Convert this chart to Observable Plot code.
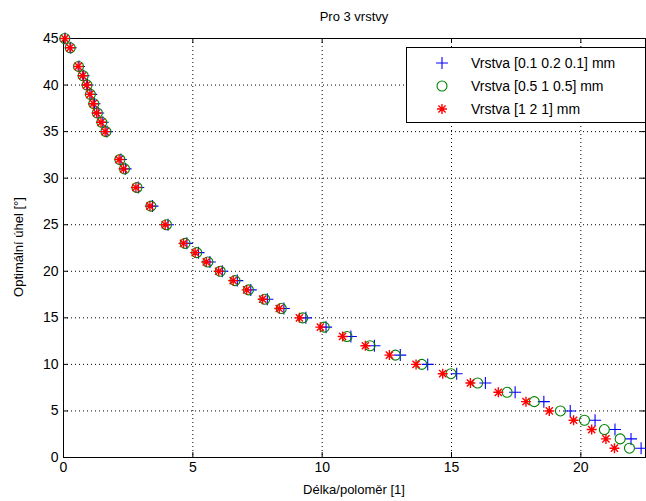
<!DOCTYPE html>
<html>
<head>
<meta charset="utf-8">
<script src="https://cdn.jsdelivr.net/npm/d3@7"></script>
<script src="https://cdn.jsdelivr.net/npm/@observablehq/plot@0.6"></script>
<style>
  html, body { margin: 0; padding: 0; background: #fff; }
  #wrap { position: relative; width: 646px; height: 501px; font-family: "Liberation Sans", Arial, sans-serif; color: #000; }
  #title { position: absolute; left: 63px; width: 582px; top: 9px; text-align: center; font-size: 13px; }
  #xlabel { position: absolute; left: 63px; width: 582px; top: 482px; text-align: center; font-size: 13px; }
  #ylabel { position: absolute; left: 18px; top: 247px; font-size: 13px; transform: translate(-50%, -50%) rotate(-90deg); white-space: nowrap; }
  #legend { position: absolute; left: 406px; top: 47px; width: 238px; height: 74px; border: 1px solid #000; background: #fff; }
  .lrow { position: absolute; left: 0; height: 20px; font-size: 14px; white-space: nowrap; }
  .lrow svg { position: absolute; left: 25px; top: 0; }
  .lrow span { position: absolute; left: 64px; top: 2px; }
</style>
</head>
<body>
<div id="wrap">
  <div id="chart"></div>
  <div id="title"></div>
  <div id="xlabel"></div>
  <div id="ylabel"></div>
  <div id="legend"></div>
</div>
<script>
// ---- data ----
const titleText = "Pro 3 vrstvy";
const xLabel = "Délka/poloměr [1]";
const yLabel = "Optimální úhel [°]";
const seriesNames = ["Vrstva [0.1 0.2 0.1] mm", "Vrstva [0.5 1 0.5] mm", "Vrstva [1 2 1] mm"];
const seriesColors = ["#0000ff", "#008000", "#ff0000"];

const angles = [45,44,42,41,40,39,38,37,36,35,32,31,29,27,25,23,22,21,20,19,18,17,16,15,14,13,12,11,10,9,8,7,6,5,4,3,2,1];
const xThin  = [0.06,0.28,0.60,0.78,0.93,1.07,1.20,1.34,1.52,1.68,2.22,2.40,2.89,3.44,4.04,4.77,5.22,5.66,6.14,6.72,7.24,7.88,8.52,9.37,10.15,11.11,12.02,13.02,14.08,15.20,16.31,17.46,18.57,19.59,20.55,21.32,21.94,22.33];
const xMid   = [0.05,0.26,0.58,0.76,0.91,1.04,1.17,1.31,1.48,1.64,2.18,2.36,2.84,3.38,3.98,4.70,5.15,5.58,6.06,6.63,7.15,7.78,8.42,9.25,10.08,10.96,11.85,12.83,13.85,14.98,16.01,17.15,18.20,19.21,20.14,20.91,21.52,21.88];
const xThick = [0.05,0.25,0.57,0.74,0.89,1.02,1.15,1.28,1.45,1.61,2.15,2.32,2.80,3.34,3.93,4.64,5.09,5.52,6.00,6.56,7.08,7.70,8.34,9.12,9.93,10.79,11.67,12.60,13.63,14.66,15.73,16.81,17.88,18.78,19.72,20.42,20.97,21.30];

const xTicks = [0, 5, 10, 15, 20];
const yTicks = [0, 5, 10, 15, 20, 25, 30, 35, 40, 45];
const xGrid = [5, 10, 15, 20];
const yGrid = [5, 10, 15, 20, 25, 30, 35, 40];

// ---- custom MATLAB-like symbols ----
const plusSym = { draw(c, size) { const r = Math.sqrt(size / Math.PI); c.moveTo(-r, 0); c.lineTo(r, 0); c.moveTo(0, -r); c.lineTo(0, r); } };
const starSym = { draw(c, size) { const r = Math.sqrt(size / Math.PI); const d = r * 0.72;
  c.moveTo(-r, 0); c.lineTo(r, 0); c.moveTo(0, -r); c.lineTo(0, r);
  c.moveTo(-d, -d); c.lineTo(d, d); c.moveTo(-d, d); c.lineTo(d, -d); } };
const circSym = { draw(c, size) { const r = Math.sqrt(size / Math.PI); c.moveTo(r, 0); c.arc(0, 0, r, 0, 2 * Math.PI); } };

const toRows = xs => xs.map((x, i) => ({ x, y: angles[i] }));
const dThin = toRows(xThin), dMid = toRows(xMid), dThick = toRows(xThick);

const W = 646, H = 501, mL = 63, mR = 1, mT = 38, mB = 44;
const innerW = W - mL - mR, innerH = H - mT - mB;
const tick = 5;

const chart = Plot.plot({
  width: W, height: H,
  marginLeft: mL, marginRight: mR, marginTop: mT, marginBottom: mB,
  x: { domain: [0, 22.5] },
  y: { domain: [0, 45] },
  style: { fontFamily: "'Liberation Sans', Arial, sans-serif", fontSize: "14px", background: "#fff", color: "#000" },
  marks: [
    Plot.gridX(xGrid, { stroke: "#000", strokeOpacity: 1, strokeDasharray: "1,3" }),
    Plot.gridY(yGrid, { stroke: "#000", strokeOpacity: 1, strokeDasharray: "1,3" }),
    Plot.ruleX(xTicks, { x: d => d, insetTop: innerH - tick, stroke: "#000" }),
    Plot.ruleX(xTicks, { x: d => d, insetBottom: innerH - tick, stroke: "#000" }),
    Plot.ruleY(yTicks, { y: d => d, insetRight: innerW - tick, stroke: "#000" }),
    Plot.ruleY(yTicks, { y: d => d, insetLeft: innerW - tick, stroke: "#000" }),
    Plot.axisX(xTicks, { tickSize: 0, tickPadding: 5, label: null, fontSize: 14 }),
    Plot.axisY(yTicks, { tickSize: 0, tickPadding: 5, label: null, fontSize: 14 }),
    Plot.frame({ stroke: "#000" }),
    Plot.dot(dThin, { x: "x", y: "y", symbol: plusSym, r: 6, stroke: seriesColors[0], fill: "none", strokeWidth: 1.1 }),
    Plot.dot(dMid, { x: "x", y: "y", symbol: circSym, r: 5, stroke: seriesColors[1], fill: "none", strokeWidth: 1.1 }),
    Plot.dot(dThick, { x: "x", y: "y", symbol: starSym, r: 5, stroke: seriesColors[2], fill: "none", strokeWidth: 1.4 })
  ]
});
document.getElementById("chart").appendChild(chart);
document.getElementById("title").textContent = titleText;
document.getElementById("xlabel").textContent = xLabel;
document.getElementById("ylabel").textContent = yLabel;

// ---- legend ----
const legend = document.getElementById("legend");
const symbolPaths = [plusSym, circSym, starSym];
const symbolR = [6, 5, 5];
const rowTops = [5, 28, 51];
seriesNames.forEach((name, i) => {
  const row = document.createElement("div");
  row.className = "lrow";
  row.style.top = rowTops[i] + "px";
  const path = d3.path();
  symbolPaths[i].draw(path, symbolR[i] * symbolR[i] * Math.PI);
  row.innerHTML = `<svg width="20" height="20" viewBox="-10 -10 20 20"><path d="${path.toString()}" fill="none" stroke="${seriesColors[i]}" stroke-width="${i === 2 ? 1.4 : 1.1}"/></svg><span></span>`;
  row.querySelector("span").textContent = name;
  legend.appendChild(row);
});
</script>
</body>
</html>
